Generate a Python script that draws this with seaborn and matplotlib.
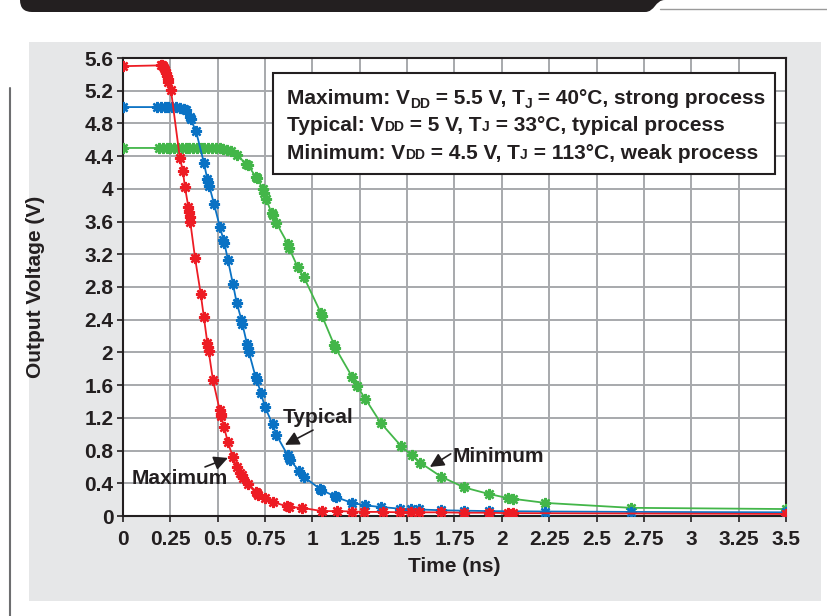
import matplotlib
matplotlib.use("Agg")
import matplotlib.pyplot as plt
import seaborn as sns
from matplotlib.patches import Rectangle, PathPatch
from matplotlib.path import Path
from matplotlib.lines import Line2D

# Output voltage vs time
time_max = [0, 0.20, 0.205, 0.21, 0.215, 0.22, 0.225, 0.23, 0.235, 0.24, 0.253,
            0.30, 0.316, 0.327, 0.345, 0.348, 0.352, 0.355, 0.38, 0.41, 0.427,
            0.445, 0.448, 0.452, 0.475, 0.51, 0.515, 0.518, 0.533, 0.554, 0.58,
            0.60, 0.62, 0.628, 0.635, 0.66, 0.70, 0.707, 0.715, 0.75, 0.79,
            0.865, 0.875, 0.945, 1.05, 1.13, 1.21, 1.27, 1.37, 1.46, 1.52,
            1.56, 1.68, 1.80, 1.93, 2.03, 2.06, 3.5]
volt_max = [5.50, 5.51, 5.51, 5.50, 5.48, 5.45, 5.42, 5.38, 5.34, 5.31, 5.21,
            4.38, 4.22, 4.02, 3.78, 3.72, 3.66, 3.60, 3.16, 2.72, 2.43,
            2.12, 2.07, 2.02, 1.66, 1.30, 1.25, 1.22, 1.09, 0.90, 0.72,
            0.60, 0.53, 0.50, 0.47, 0.39, 0.29, 0.28, 0.26, 0.22, 0.17,
            0.12, 0.11, 0.10, 0.06, 0.06, 0.055, 0.05, 0.05, 0.045, 0.045,
            0.045, 0.045, 0.04, 0.04, 0.035, 0.035, 0.025]

time_typ = [0, 0.18, 0.20, 0.22, 0.24, 0.26, 0.28, 0.30, 0.32, 0.335, 0.352,
            0.357, 0.385, 0.427, 0.445, 0.45, 0.455, 0.48, 0.512, 0.53, 0.535,
            0.554, 0.58, 0.60, 0.625, 0.63, 0.655, 0.66, 0.665, 0.70, 0.707,
            0.728, 0.75, 0.79, 0.81, 0.87, 0.876, 0.88, 0.93, 0.955, 1.04,
            1.045, 1.12, 1.125, 1.21, 1.28, 1.36, 1.46, 1.52, 1.56, 1.68,
            1.80, 1.93, 2.23, 2.68, 3.5]
volt_typ = [5.00, 5.00, 5.00, 5.00, 5.00, 5.00, 5.00, 4.99, 4.98, 4.96, 4.88,
            4.85, 4.71, 4.32, 4.12, 4.08, 4.04, 3.82, 3.53, 3.38, 3.34,
            3.13, 2.84, 2.61, 2.40, 2.35, 2.10, 2.05, 2.00, 1.70, 1.66,
            1.50, 1.33, 1.12, 0.99, 0.74, 0.71, 0.69, 0.55, 0.48, 0.33,
            0.32, 0.24, 0.23, 0.16, 0.13, 0.11, 0.09, 0.085, 0.08, 0.07,
            0.065, 0.06, 0.055, 0.05, 0.045]

time_min = [0, 0.19, 0.21, 0.23, 0.25, 0.27, 0.29, 0.31, 0.33, 0.35, 0.37,
            0.39, 0.41, 0.43, 0.45, 0.47, 0.49, 0.51, 0.53, 0.55, 0.57,
            0.60, 0.65, 0.66, 0.70, 0.707, 0.74, 0.745, 0.755, 0.785, 0.79,
            0.81, 0.87, 0.876, 0.923, 0.955, 1.045, 1.05, 1.115, 1.12, 1.21,
            1.235, 1.28, 1.36, 1.47, 1.525, 1.57, 1.68, 1.80, 1.93, 2.03,
            2.06, 2.23, 2.68, 3.5]
volt_min = [4.50, 4.50, 4.50, 4.50, 4.50, 4.50, 4.50, 4.50, 4.50, 4.50, 4.50,
            4.50, 4.50, 4.50, 4.50, 4.50, 4.50, 4.50, 4.49, 4.48, 4.46,
            4.41, 4.31, 4.29, 4.15, 4.13, 4.00, 3.95, 3.88, 3.70, 3.68,
            3.58, 3.33, 3.28, 3.04, 2.92, 2.48, 2.45, 2.09, 2.06, 1.70,
            1.59, 1.43, 1.14, 0.85, 0.74, 0.65, 0.48, 0.35, 0.27, 0.22,
            0.21, 0.16, 0.10, 0.085]

x_ticks = [0, 0.25, 0.5, 0.75, 1, 1.25, 1.5, 1.75, 2, 2.25, 2.5, 2.75, 3, 3.25, 3.5]
x_labels = ['0', '0.25', '0.5', '0.75', '1', '1.25', '1.5', '1.75', '2',
            '2.25', '2.5', '2.75', '3', '3.25', '3.5']
y_ticks = [0, 0.4, 0.8, 1.2, 1.6, 2, 2.4, 2.8, 3.2, 3.6, 4, 4.4, 4.8, 5.2, 5.6]
y_labels = ['0', '0.4', '0.8', '1.2', '1.6', '2', '2.4', '2.8', '3.2', '3.6',
            '4', '4.4', '4.8', '5.2', '5.6']

RED = '#ed1c24'
BLUE = '#0a72c4'
GREEN = '#43b649'
INK = '#231f20'

sns.set_style('white')
plt.rcParams['font.family'] = ['Liberation Sans', 'DejaVu Sans']
plt.rcParams['font.weight'] = 'bold'

W, H = 827, 616
fig = plt.figure(figsize=(W / 100, H / 100), dpi=100)


def fx(px):
    return px / W


def fy(py):
    return 1 - py / H


# page decorations around the chart
fig.patches.append(Rectangle((fx(29), fy(601)), fx(821) - fx(29), fy(42) - fy(601),
                             transform=fig.transFigure, facecolor='#e6e7e8',
                             edgecolor='none', zorder=-2))
bar = Path([(fx(20), fy(0)), (fx(20), fy(12)), (fx(32), fy(12)),
            (fx(645), fy(12)), (fx(655), fy(12)), (fx(655), fy(0)), (fx(665), fy(0)),
            (fx(20), fy(0))],
           [Path.MOVETO, Path.CURVE3, Path.CURVE3, Path.LINETO, Path.CURVE4,
            Path.CURVE4, Path.CURVE4, Path.CLOSEPOLY])
fig.patches.append(PathPatch(bar, transform=fig.transFigure, facecolor=INK,
                             edgecolor='none', zorder=-1))
fig.lines.append(Line2D([fx(660), fx(827)], [fy(9), fy(9)], transform=fig.transFigure,
                        color='#9a9a9a', lw=1, zorder=-1))
fig.lines.append(Line2D([fx(10), fx(10)], [fy(88), fy(616)], transform=fig.transFigure,
                        color='#6d6e70', lw=1.5, zorder=-1))

ax = fig.add_axes([fx(123), fy(516), fx(786) - fx(123), fy(58) - fy(516)])
ax.set_facecolor('white')

for t, v, c in [(time_min, volt_min, GREEN), (time_typ, volt_typ, BLUE),
                (time_max, volt_max, RED)]:
    sns.lineplot(x=t, y=v, ax=ax, color=c, linewidth=1.3, marker=(8, 2, 0),
                 markersize=8, markeredgecolor=c, markeredgewidth=1.7,
                 estimator=None, sort=False, zorder=3)

FS = 15
ax.set_xlim(0, 3.5)
ax.set_ylim(0, 5.6)
ax.set_xticks(x_ticks, x_labels)
ax.set_yticks(y_ticks, y_labels)
ax.grid(True, color='#a7a9ac', linewidth=1.4, zorder=1)
ax.set_axisbelow(True)
for s in ax.spines.values():
    s.set_visible(True)
    s.set_color(INK)
    s.set_linewidth(1.5)
ax.tick_params(axis='both', direction='out', length=4, width=1.2, color=INK,
               labelsize=FS, labelcolor=INK, pad=3, bottom=True, left=True)
ax.tick_params(axis='x', pad=6)
for lab in ax.get_xticklabels() + ax.get_yticklabels():
    lab.set_fontweight('bold')
ax.set_xlabel('Time (ns)', fontsize=FS, fontweight='bold', color=INK, labelpad=6)
ax.set_ylabel('Output Voltage (V)', fontsize=FS, fontweight='bold', color=INK, labelpad=28)

# curve labels with arrows
arrow = dict(arrowstyle='-|>,head_length=0.6,head_width=0.3', color=INK, lw=1.2,
             mutation_scale=14, shrinkA=0, shrinkB=0)
for label, tx, ty, tail, head in [('Maximum', 0.30, 0.46, (0.433, 0.60), (0.554, 0.71)),
                                  ('Typical', 1.03, 1.20, (1.003, 1.05), (0.855, 0.87)),
                                  ('Minimum', 1.98, 0.73, (1.73, 0.76), (1.62, 0.60))]:
    ax.text(tx, ty, label, fontsize=FS, fontweight='bold', color=INK,
            ha='center', va='center', zorder=5)
    ax.annotate('', xy=head, xytext=tail, arrowprops=arrow, zorder=5)

# condition box
ax.add_patch(Rectangle((fx(273), fy(174)), fx(775) - fx(273), fy(73) - fy(174),
                       transform=fig.transFigure, facecolor='white',
                       edgecolor=INK, lw=1.5, zorder=8, clip_on=False))
BIG, SMALL = FS, 10
lines = [
    [('Maximum: V', BIG, 0), ('DD', SMALL, -3.5), (' = 5.5 V, T', BIG, 0), ('J', SMALL, -3.5),
     (' = 40°C, strong process', BIG, 0)],
    [('Typical: V', BIG, 0), ('DD', SMALL, 0), (' = 5 V, T', BIG, 0), ('J', SMALL, 0),
     (' = 33°C, typical process', BIG, 0)],
    [('Minimum: V', BIG, 0), ('DD', SMALL, 0), (' = 4.5 V, T', BIG, 0), ('J', SMALL, 0),
     (' = 113°C, weak process', BIG, 0)],
]
desc_em = 0.212
for row, py in zip(lines, [104, 131, 159]):
    first = None
    prev = None
    for txt, size, shift in row:
        if first is None:
            first = ax.text(fx(287), fy(py), txt, transform=fig.transFigure,
                            fontsize=size, fontweight='bold', color=INK,
                            ha='left', va='baseline', zorder=9, clip_on=False)
            prev = first
            continue
        dy = desc_em * (BIG - size) + shift
        prev = ax.annotate(txt, xy=(1, 0), xycoords=(prev, first),
                           xytext=(0, dy), textcoords='offset points',
                           fontsize=size, fontweight='bold', color=INK,
                           ha='left', va='bottom', annotation_clip=False, zorder=9)

fig.savefig('out.png', dpi=100, facecolor='white')
